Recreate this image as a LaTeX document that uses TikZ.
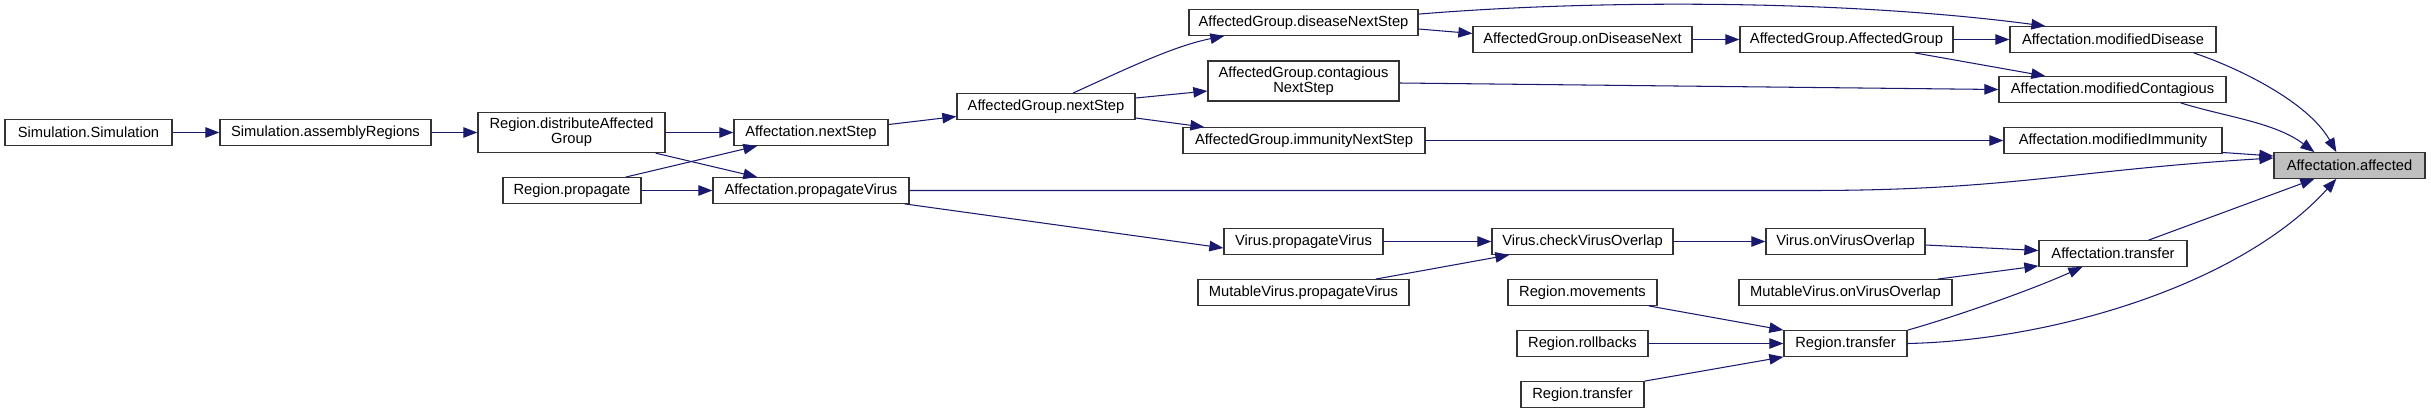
\documentclass[tikz,border=0pt]{standalone}
\usepackage{fontspec}
\setmainfont{Liberation Sans}
\usetikzlibrary{arrows.meta}
\definecolor{edgec}{HTML}{191970}
\definecolor{boxgray}{HTML}{BFBFBF}
\begin{document}
\begin{tikzpicture}[x=1pt,y=-1pt,
  fn/.style={draw=black!80, line width=1.3pt, fill=white, inner sep=0pt,
    minimum height=25.5pt, align=center, font=\fontsize{14.7}{15}\selectfont},
  fntwo/.style={fn, minimum height=40pt},
  call/.style={draw=edgec, line width=1.05pt, -{Triangle[length=14pt,width=10.5pt]}}]
\useasboundingbox (0,0) rectangle (2431,412);
\fill[white] (0,0) rectangle (2431,412);

% nodes
\node[fn, minimum width=167pt] (simsim) at (88.5,132.5) {Simulation.Simulation};
\node[fn, minimum width=211pt] (assembly) at (325.5,132.5) {Simulation.assemblyRegions};
\node[fntwo, minimum width=187pt] (distrib) at (571.5,132.5) {Region.distributeAffected\\Group};
\node[fn, minimum width=154pt] (anext) at (811,132.5) {Affectation.nextStep};
\node[fn, minimum width=138pt] (rprop) at (572,190.5) {Region.propagate};
\node[fn, minimum width=196pt] (apropv) at (811,190.5) {Affectation.propagateVirus};
\node[fn, minimum width=178pt] (agnext) at (1046,106.5) {AffectedGroup.nextStep};
\node[fn, minimum width=229pt] (agdis) at (1303.5,22.5) {AffectedGroup.diseaseNextStep};
\node[fntwo, minimum width=191pt] (agcont) at (1303.5,81) {AffectedGroup.contagious\\NextStep};
\node[fn, minimum width=242pt] (agimm) at (1304,140.5) {AffectedGroup.immunityNextStep};
\node[fn, minimum width=219pt] (agondis) at (1582.5,39.5) {AffectedGroup.onDiseaseNext};
\node[fn, minimum width=213pt] (agag) at (1846.5,39.5) {AffectedGroup.AffectedGroup};
\node[fn, minimum width=206pt] (amdis) at (2113,39.5) {Affectation.modifiedDisease};
\node[fn, minimum width=227pt] (amcont) at (2112.5,89.5) {Affectation.modifiedContagious};
\node[fn, minimum width=218pt] (amimm) at (2113,140.5) {Affectation.modifiedImmunity};
\node[fn, minimum width=151pt, fill=boxgray] (aff) at (2349.5,165.5) {Affectation.affected};
\node[fn, minimum width=159pt] (vprop) at (1303.5,241.5) {Virus.propagateVirus};
\node[fn, minimum width=211pt] (mvprop) at (1303.5,292.5) {MutableVirus.propagateVirus};
\node[fn, minimum width=181pt] (vcheck) at (1582.5,241.5) {Virus.checkVirusOverlap};
\node[fn, minimum width=149pt] (rmov) at (1582.5,292.5) {Region.movements};
\node[fn, minimum width=131pt] (rroll) at (1582.5,343.5) {Region.rollbacks};
\node[fn, minimum width=123pt] (rtransL) at (1582.5,394.5) {Region.transfer};
\node[fn, minimum width=159pt] (vonov) at (1845.5,241.5) {Virus.onVirusOverlap};
\node[fn, minimum width=213pt] (mvonov) at (1845.5,292.5) {MutableVirus.onVirusOverlap};
\node[fn, minimum width=123pt] (rtransR) at (1845.5,343.5) {Region.transfer};
\node[fn, minimum width=148pt] (atrans) at (2113,253.5) {Affectation.transfer};

% connectors
\draw[call] (simsim.east) -- (assembly.west);
\draw[call] (assembly.east) -- (distrib.west);
\draw[call] (distrib.east) -- (anext.west);
\draw[call] ([xshift=-10pt]distrib.south east) -- ([xshift=45pt]apropv.north west);
\draw[call] ([xshift=-16pt]rprop.north east) -- ([xshift=24pt]anext.south west);
\draw[call] (rprop.east) -- (apropv.west);
\draw[call] ([yshift=8pt]anext.east) -- ([yshift=-10pt]agnext.west);
\draw[call] ([xshift=27pt]agnext.north) .. controls +(57,-26) and +(-50,10) .. ([xshift=36pt]agdis.south west);
\draw[call] ([yshift=8.5pt]agnext.east) -- ([yshift=-10pt]agcont.west);
\draw[call] ([yshift=-11.5pt]agnext.east) -- ([xshift=22pt]agimm.north west);
\draw[call] ([yshift=-6.5pt]agdis.east) -- ([yshift=6pt]agondis.west);
\draw[call] ([yshift=-5pt]agdis.north east) .. controls +(182,-15) and +(-196,-26) .. ([xshift=36pt]amdis.north west);
\draw[call] (agondis.east) -- (agag.west);
\draw[call] (agag.east) -- (amdis.west);
\draw[call] ([xshift=-39pt]agag.south east) -- ([xshift=47pt]amcont.north west);
\draw[call] ([yshift=-2pt]agcont.east) -- (amcont.west);
\draw[call] (agimm.east) -- (amimm.west);
\draw[call] ([xshift=-23pt]amdis.south east) .. controls +(45,15) and +(-28,-50) .. ([xshift=63pt]aff.north west);
\draw[call] ([xshift=-46pt]amcont.south east) .. controls +(45,14) and +(-40,-30) .. ([xshift=41pt]aff.north west);
\draw[call] ([yshift=-12pt]amimm.east) -- ([yshift=9.5pt]aff.west);
\draw[call] (apropv.east) -- ++(900,0) .. controls +(200,0) and +(-200,12) .. ([yshift=7.5pt]aff.west);
\draw[call] ([xshift=-5pt]apropv.south east) -- ([yshift=-6.5pt]vprop.west);
\draw[call] (vprop.east) -- (vcheck.west);
\draw[call] ([xshift=-34pt]mvprop.north east) -- ([xshift=18pt]vcheck.south west);
\draw[call] (vcheck.east) -- (vonov.west);
\draw[call] ([yshift=-3.5pt]vonov.east) -- ([yshift=3pt]atrans.west);
\draw[call] ([xshift=-15pt]mvonov.north east) -- ([yshift=1pt]atrans.south west);
\draw[call] ([xshift=-9pt]rmov.south east) -- (rtransR.north west);
\draw[call] (rroll.east) -- (rtransR.west);
\draw[call] (rtransL.north east) -- (rtransR.south west);
\draw[call] (rtransR.north east) .. controls +(43,-12) and +(-53,24) .. ([xshift=44pt]atrans.south west);
\draw[call] (rtransR.east) .. controls +(143,-3) and +(-97,107) .. ([xshift=63pt]aff.south west);
\draw[call] ([xshift=-39pt]atrans.north east) -- ([xshift=41pt]aff.south west);
\end{tikzpicture}
\end{document}
